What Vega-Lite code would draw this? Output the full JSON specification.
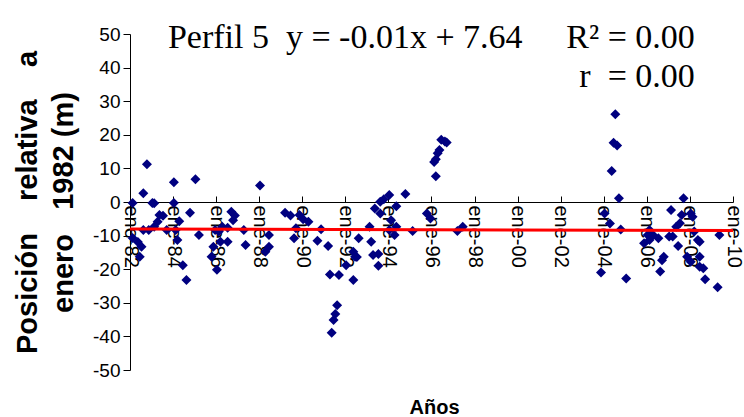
{
  "$schema": "https://vega.github.io/schema/vega-lite/v6.json",
  "width": 603,
  "height": 336,
  "autosize": {"type": "none"},
  "padding": {"left": 130, "top": 34, "right": 11, "bottom": 47},
  "background": "white",
  "config": {
    "view": {"stroke": null},
    "font": "Liberation Sans",
    "axis": {"labelFont": "Liberation Sans", "titleFont": "Liberation Sans", "labelColor": "black", "titleColor": "black", "domainColor": "black", "tickColor": "black", "grid": false, "labelOverlap": false},
    "axisY": {"labelOverlap": false, "labelFontSize": 19}
  },
  "datasets": {
    "pts": [
      {"d": "1982-02-15", "v": -0.3}, {"d": "1982-02-15", "v": -10.7}, {"d": "1982-05-15", "v": -11.9}, {"d": "1982-07-15", "v": -13.3},
      {"d": "1982-06-15", "v": -16.3}, {"d": "1982-08-15", "v": 2.6}, {"d": "1982-08-15", "v": -8.3}, {"d": "1982-10-15", "v": 11.2},
      {"d": "1982-11-15", "v": -8.3}, {"d": "1983-01-15", "v": -0.3}, {"d": "1983-02-15", "v": -0.4}, {"d": "1983-02-15", "v": -7.4},
      {"d": "1983-04-15", "v": -5.9}, {"d": "1983-05-15", "v": -3.9}, {"d": "1983-07-15", "v": -4.1}, {"d": "1983-09-15", "v": -8.3},
      {"d": "1984-01-15", "v": 5.9}, {"d": "1984-01-15", "v": -0.3}, {"d": "1984-02-15", "v": -8.3}, {"d": "1984-03-15", "v": -11.3},
      {"d": "1984-04-15", "v": -5.7}, {"d": "1984-06-15", "v": -18.8}, {"d": "1984-08-15", "v": -23.2}, {"d": "1984-10-15", "v": -3.2},
      {"d": "1985-01-15", "v": 6.8}, {"d": "1985-03-15", "v": -9.8}, {"d": "1985-10-15", "v": -16.3}, {"d": "1985-11-15", "v": -13.3},
      {"d": "1985-12-15", "v": -8.3}, {"d": "1986-01-15", "v": -20.2}, {"d": "1986-02-15", "v": -8.8}, {"d": "1986-03-15", "v": -11.8},
      {"d": "1986-04-15", "v": -7.4}, {"d": "1986-07-15", "v": -11.8}, {"d": "1986-07-15", "v": -7.7}, {"d": "1986-09-15", "v": -2.9},
      {"d": "1986-11-15", "v": -4.0}, {"d": "1986-10-15", "v": -5.4}, {"d": "1987-04-15", "v": -8.3}, {"d": "1987-05-15", "v": -12.8},
      {"d": "1988-01-15", "v": 4.9}, {"d": "1988-04-15", "v": -14.8}, {"d": "1988-06-15", "v": -9.8}, {"d": "1988-06-15", "v": -13.3},
      {"d": "1989-03-15", "v": -3.2}, {"d": "1989-06-15", "v": -4.0}, {"d": "1989-11-15", "v": -3.9}, {"d": "1990-01-15", "v": -5.1},
      {"d": "1989-09-15", "v": -7.8}, {"d": "1989-08-15", "v": -10.8}, {"d": "1990-04-15", "v": -5.9}, {"d": "1990-11-15", "v": -8.1},
      {"d": "1990-09-15", "v": -11.5}, {"d": "1991-03-15", "v": -13.1}, {"d": "1991-04-15", "v": -21.6}, {"d": "1991-09-15", "v": -21.7},
      {"d": "1991-08-15", "v": -30.7}, {"d": "1991-07-15", "v": -33.3}, {"d": "1991-06-15", "v": -35.1}, {"d": "1991-05-15", "v": -38.9},
      {"d": "1992-01-15", "v": -18.8}, {"d": "1992-05-15", "v": -14.8}, {"d": "1992-06-15", "v": -16.3}, {"d": "1992-07-15", "v": -16.4},
      {"d": "1992-05-15", "v": -23.2}, {"d": "1992-08-15", "v": -10.8}, {"d": "1993-02-15", "v": -7.4}, {"d": "1993-03-15", "v": -11.8},
      {"d": "1993-05-15", "v": -1.9}, {"d": "1993-04-15", "v": -15.8}, {"d": "1993-07-15", "v": -15.5}, {"d": "1993-07-15", "v": -19.0},
      {"d": "1993-08-15", "v": -3.4}, {"d": "1993-08-15", "v": 0.1}, {"d": "1993-10-15", "v": 0.8}, {"d": "1994-01-15", "v": 2.1},
      {"d": "1994-02-15", "v": -5.4}, {"d": "1994-01-15", "v": -8.3}, {"d": "1994-04-15", "v": -9.8}, {"d": "1994-05-15", "v": -7.4},
      {"d": "1994-05-15", "v": -1.3}, {"d": "1994-10-15", "v": 2.4}, {"d": "1995-02-15", "v": -8.6}, {"d": "1995-10-15", "v": -3.4},
      {"d": "1995-12-15", "v": -4.9}, {"d": "1996-03-15", "v": 7.7}, {"d": "1996-02-15", "v": 11.9}, {"d": "1996-03-15", "v": 12.7},
      {"d": "1996-04-15", "v": 14.5}, {"d": "1996-05-15", "v": 15.5}, {"d": "1996-06-15", "v": 18.5}, {"d": "1996-08-15", "v": 18.0},
      {"d": "1996-09-15", "v": 17.7}, {"d": "1997-03-15", "v": -8.6}, {"d": "1997-06-15", "v": -7.4}, {"d": "2003-11-15", "v": -21.0},
      {"d": "2004-01-15", "v": -3.4}, {"d": "2004-04-15", "v": -6.4}, {"d": "2004-05-15", "v": 9.2}, {"d": "2004-06-15", "v": 17.6},
      {"d": "2004-08-15", "v": 16.8}, {"d": "2004-07-15", "v": 26.1}, {"d": "2004-09-15", "v": 1.1}, {"d": "2004-10-15", "v": -8.2},
      {"d": "2005-01-15", "v": -22.8}, {"d": "2005-11-15", "v": -12.3}, {"d": "2006-01-15", "v": -9.8}, {"d": "2006-02-15", "v": -11.3},
      {"d": "2006-04-15", "v": -9.8}, {"d": "2006-07-15", "v": -10.8}, {"d": "2006-09-15", "v": -17.3}, {"d": "2006-10-15", "v": -16.3},
      {"d": "2006-08-15", "v": -20.7}, {"d": "2007-01-15", "v": -10.3}, {"d": "2007-02-15", "v": -2.4}, {"d": "2007-03-15", "v": -10.3},
      {"d": "2007-06-15", "v": -13.1}, {"d": "2007-05-15", "v": -7.4}, {"d": "2007-07-15", "v": -6.3}, {"d": "2007-08-15", "v": -3.9},
      {"d": "2007-09-15", "v": 1.1}, {"d": "2007-11-15", "v": -16.3}, {"d": "2008-01-15", "v": -17.8}, {"d": "2008-01-15", "v": -3.4},
      {"d": "2008-02-15", "v": -4.4}, {"d": "2008-03-15", "v": -8.8}, {"d": "2008-05-15", "v": -11.3}, {"d": "2008-06-15", "v": -11.8},
      {"d": "2008-06-15", "v": -16.3}, {"d": "2008-06-15", "v": -19.3}, {"d": "2008-08-15", "v": -19.7}, {"d": "2008-09-15", "v": -23.0},
      {"d": "2009-04-15", "v": -25.4}, {"d": "2009-05-15", "v": -9.8}, {"d": "2006-02-15", "v": -8.3}
    ],
    "trend": [
      {"d": "1982-01-01", "v": -8.0},
      {"d": "2010-01-01", "v": -8.5}
    ]
  },
  "layer": [
    {
      "data": {"name": "pts"},
      "mark": {"type": "point", "shape": "diamond", "filled": true, "color": "#000080", "size": 100, "opacity": 1},
      "encoding": {
        "x": {
          "field": "d", "type": "temporal",
          "scale": {"domain": [{"year": 1982, "month": 1, "date": 1}, {"year": 2010, "month": 1, "date": 1}]},
          "axis": {
            "title": "Años", "titleFontSize": 20, "titleFontWeight": "bold",
            "titleX": 304, "titleY": 211, "titleBaseline": "alphabetic", "titleAlign": "center",
            "offset": -168,
            "values": [
              {"year": 1982, "month": 1, "date": 1}, {"year": 1984, "month": 1, "date": 1}, {"year": 1986, "month": 1, "date": 1},
              {"year": 1988, "month": 1, "date": 1}, {"year": 1990, "month": 1, "date": 1}, {"year": 1992, "month": 1, "date": 1},
              {"year": 1994, "month": 1, "date": 1}, {"year": 1996, "month": 1, "date": 1}, {"year": 1998, "month": 1, "date": 1},
              {"year": 2000, "month": 1, "date": 1}, {"year": 2002, "month": 1, "date": 1}, {"year": 2004, "month": 1, "date": 1},
              {"year": 2006, "month": 1, "date": 1}, {"year": 2008, "month": 1, "date": 1}, {"year": 2010, "month": 1, "date": 1}
            ],
            "labelExpr": "'ene-' + timeFormat(datum.value, '%y')",
            "labelAngle": 90, "labelFontSize": 20, "labelPadding": 9, "labelOverlap": false, "labelFlush": false,
            "tickSize": -6
          }
        },
        "y": {
          "field": "v", "type": "quantitative",
          "scale": {"domain": [-50, 50]},
          "axis": {
            "title": ["Posición\u00a0\u00a0\u00a0\u00a0relativa\u00a0\u00a0\u00a0\u00a0a", "enero\u00a0\u00a0\u00a01982\u00a0(m)"],
            "titleFontSize": 29, "titleFontWeight": "bold", "titleLineHeight": 36,
            "titleX": -94, "titleY": 168, "titleAngle": -90, "titleBaseline": "alphabetic", "titleAlign": "center",
            "values": [-50, -40, -30, -20, -10, 0, 10, 20, 30, 40, 50],
            "tickCount": 11,
            "labelExpr": "'' + datum.value",
            "labelFontSize": 19, "tickSize": 7, "labelPadding": 3, "labelOverlap": false
          }
        }
      }
    },
    {
      "data": {"name": "trend"},
      "mark": {"type": "line", "color": "#FF0000", "strokeWidth": 3},
      "encoding": {
        "x": {"field": "d", "type": "temporal"},
        "y": {"field": "v", "type": "quantitative", "axis": {"labelOverlap": false, "values": [-50, -40, -30, -20, -10, 0, 10, 20, 30, 40, 50]}}
      }
    },
    {
      "data": {"values": [{}]},
      "mark": {"type": "text", "font": "Liberation Serif", "fontSize": 34, "align": "left", "baseline": "alphabetic", "color": "black"},
      "encoding": {
        "x": {"datum": {"year": 1983, "month": 10, "date": 6}, "type": "temporal"},
        "y": {"datum": 45.8, "type": "quantitative"},
        "text": {"value": "Perfil 5\u00a0\u00a0y = -0.01x + 7.64"}
      }
    },
    {
      "data": {"values": [{}]},
      "mark": {"type": "text", "font": "Liberation Serif", "fontSize": 34, "align": "right", "baseline": "alphabetic", "color": "black"},
      "encoding": {
        "x": {"datum": {"year": 2008, "month": 3, "date": 25}, "type": "temporal"},
        "y": {"datum": 45.8, "type": "quantitative"},
        "text": {"value": "R² = 0.00"}
      }
    },
    {
      "data": {"values": [{}]},
      "mark": {"type": "text", "font": "Liberation Serif", "fontSize": 34, "align": "right", "baseline": "alphabetic", "color": "black"},
      "encoding": {
        "x": {"datum": {"year": 2008, "month": 3, "date": 25}, "type": "temporal"},
        "y": {"datum": 34.2, "type": "quantitative"},
        "text": {"value": "r\u00a0\u00a0= 0.00"}
      }
    }
  ]
}
